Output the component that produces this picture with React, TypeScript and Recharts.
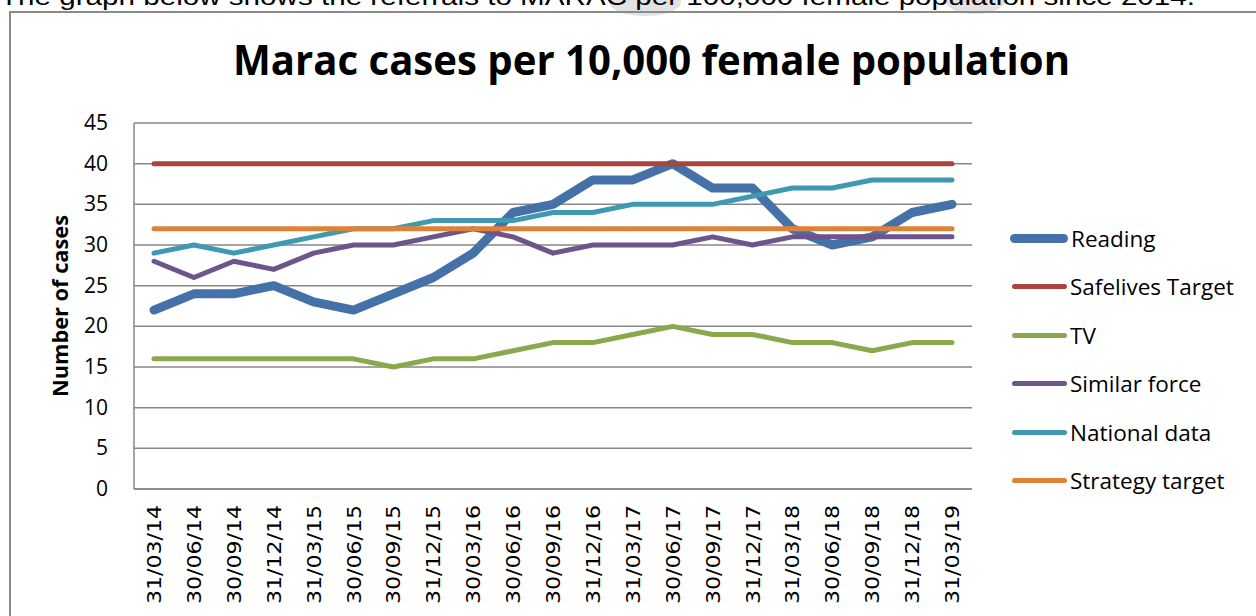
import React from 'react';
import { LineChart, Line, XAxis, YAxis, CartesianGrid, Legend } from 'recharts';

// quarter end dates
const quarters = [
  '31/03/14', '30/06/14', '30/09/14', '31/12/14', '31/03/15', '30/06/15', '30/09/15',
  '31/12/15', '30/03/16', '30/06/16', '30/09/16', '31/12/16', '31/03/17', '30/06/17',
  '30/09/17', '31/12/17', '31/03/18', '30/06/18', '30/09/18', '31/12/18', '31/03/19',
];

const reading = [22, 24, 24, 25, 23, 22, 24, 26, 29, 34, 35, 38, 38, 40, 37, 37, 32, 30, 31, 34, 35];
const safelivesTarget = [40, 40, 40, 40, 40, 40, 40, 40, 40, 40, 40, 40, 40, 40, 40, 40, 40, 40, 40, 40, 40];
const tv = [16, 16, 16, 16, 16, 16, 15, 16, 16, 17, 18, 18, 19, 20, 19, 19, 18, 18, 17, 18, 18];
const similarForce = [28, 26, 28, 27, 29, 30, 30, 31, 32, 31, 29, 30, 30, 30, 31, 30, 31, 31, 31, 31, 31];
const nationalData = [29, 30, 29, 30, 31, 32, 32, 33, 33, 33, 34, 34, 35, 35, 35, 36, 37, 37, 38, 38, 38];
const strategyTarget = [32, 32, 32, 32, 32, 32, 32, 32, 32, 32, 32, 32, 32, 32, 32, 32, 32, 32, 32, 32, 32];

const yTicks = [0, 5, 10, 15, 20, 25, 30, 35, 40, 45];

const series = [
  { key: 'reading', name: 'Reading', color: '#4471A8', width: 9 },
  { key: 'safelives', name: 'Safelives Target', color: '#A9443F', width: 5 },
  { key: 'tv', name: 'TV', color: '#8AA84C', width: 5 },
  { key: 'similar', name: 'Similar force', color: '#6E548C', width: 5 },
  { key: 'national', name: 'National data', color: '#3F99B1', width: 5 },
  { key: 'strategy', name: 'Strategy target', color: '#DE823A', width: 5 },
];

const data = quarters.map((q, i) => ({
  q,
  reading: reading[i],
  safelives: safelivesTarget[i],
  tv: tv[i],
  similar: similarForce[i],
  national: nationalData[i],
  strategy: strategyTarget[i],
}));

const gridColor = '#878787';

const XTick = (props: any) => {
  const { x, y, payload } = props;
  return (
    <text
      transform={`translate(${x + 7},${y + 8}) rotate(-90)`}
      textAnchor="end"
      fontFamily="DejaVu Sans"
      fontSize={20}
      textLength={99}
      lengthAdjust="spacingAndGlyphs"
      fill="#000"
    >
      {payload.value}
    </text>
  );
};

const YTick = (props: any) => {
  const { y, payload } = props;
  return (
    <text x={108} y={y + 7} textAnchor="end" fontFamily="Open Sans" fontSize={21} fill="#000">
      {payload.value}
    </text>
  );
};

const LegendBox = () => (
  <div style={{ position: 'absolute', left: 1008, top: 214 }}>
    {series.map((s) => (
      <div key={s.key} style={{ display: 'flex', alignItems: 'center', height: 48.5 }}>
        <div
          style={{
            width: s.width > 6 ? 58 : 55,
            height: s.width > 6 ? 9 : 5,
            marginLeft: s.width > 6 ? 2 : 4,
            marginRight: 3,
            background: s.color,
            borderRadius: 5,
          }}
        />
        <span style={{ fontFamily: 'Open Sans', fontSize: 22.5, color: '#000', whiteSpace: 'nowrap' }}>{s.name}</span>
      </div>
    ))}
  </div>
);

export default function App() {
  return (
    <div style={{ position: 'absolute', left: 0, top: 0, width: 1256, height: 616, overflow: 'hidden', background: '#fff' }}>
      <svg width={1256} height={616} style={{ position: 'absolute', left: 0, top: 0 }}>
        <ellipse cx={645} cy={2} rx={36} ry={14} fill="#e2e2e2" />
        <ellipse cx={975} cy={0} rx={30} ry={14} fill="#e2e2e2" />
        <text x={0} y={5} fontFamily="Liberation Sans" fontSize={24} textLength={1195} lengthAdjust="spacingAndGlyphs" fill="#000">
          The graph below shows the referrals to MARAC per 100,000 female population since 2014.
        </text>
        <path d="M10,640 L10,12 L1270,12" fill="none" stroke="#8a8a8a" strokeWidth={2} />
        <text x={233} y={75} fontFamily="Open Sans" fontWeight="bold" fontSize={42} textLength={837} lengthAdjust="spacingAndGlyphs" fill="#000">
          Marac cases per 10,000 female population
        </text>
        <text
          transform="translate(68,306) rotate(-90)"
          textAnchor="middle"
          fontFamily="Open Sans"
          fontWeight="bold"
          fontSize={21}
          textLength={182}
          lengthAdjust="spacingAndGlyphs"
          fill="#000"
        >
          Number of cases
        </text>
      </svg>
      <div style={{ position: 'absolute', left: 0, top: 0 }}>
        <LineChart width={1256} height={616} data={data} margin={{ top: 123, right: 284, bottom: 0, left: 0 }}>
          <CartesianGrid vertical={false} stroke={gridColor} strokeWidth={1.5} />
          <XAxis
            dataKey="q"
            padding={{ left: 20, right: 20 }}
            axisLine={{ stroke: gridColor, strokeWidth: 1.5 }}
            tickLine={false}
            tick={<XTick />}
            interval={0}
            height={127}
          />
          <YAxis
            domain={[0, 45]}
            ticks={yTicks}
            width={134}
            axisLine={{ stroke: gridColor, strokeWidth: 1.5 }}
            tickLine={false}
            tick={<YTick />}
            interval={0}
          />
          {series.map((s) => (
            <Line
              key={s.key}
              dataKey={s.key}
              name={s.name}
              stroke={s.color}
              strokeWidth={s.width}
              strokeLinecap="round"
              strokeLinejoin="round"
              dot={false}
              activeDot={false}
              isAnimationActive={false}
            />
          ))}
          <Legend content={() => null} />
        </LineChart>
      </div>
      <LegendBox />
    </div>
  );
}
